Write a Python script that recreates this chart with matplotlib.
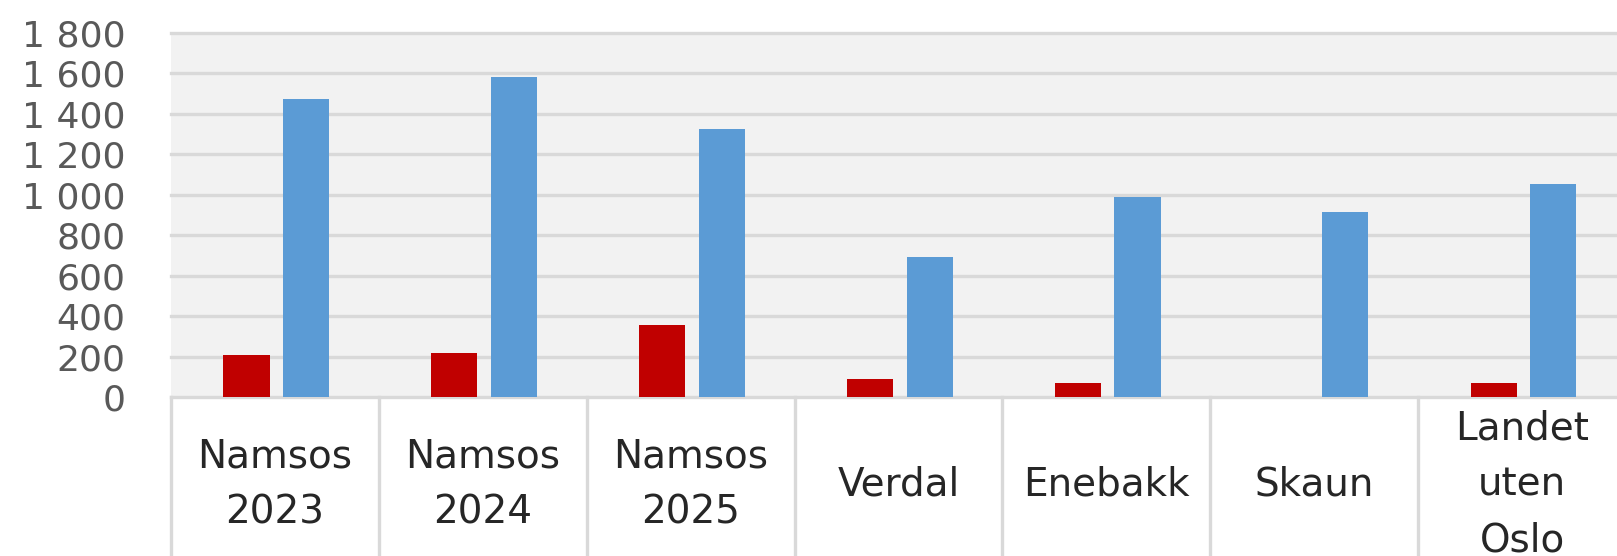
import matplotlib.pyplot as plt
import numpy as np
from matplotlib.transforms import blended_transform_factory

categories = ["Namsos\n2023", "Namsos\n2024", "Namsos\n2025", "Verdal",
              "Enebakk", "Skaun", "Landet\nuten\nOslo"]
red_values  = [206, 219, 354, 91, 69, 0, 70]
blue_values = [1475, 1581, 1327, 690, 990, 917, 1054]
y_ticks     = [0, 200, 400, 600, 800, 1000, 1200, 1400, 1600, 1800]
y_labels    = ["0", "200", "400", "600", "800", "1 000", "1 200", "1 400", "1 600", "1 800"]

RED  = "#C00000"
BLUE = "#5B9BD5"
GRID = "#D9D9D9"

plt.rcParams["font.family"] = ["DejaVu Sans"]

W, H = 1617, 556
fig = plt.figure(figsize=(W / 100, H / 100), dpi=100)
ax = fig.add_axes([171 / W, 1 - 397 / H, 1455 / W, 364 / H])
ax.set_facecolor("#F2F2F2")

x = np.arange(len(categories))
bw = 0.222
ax.bar(x - 0.137, red_values, width=bw, color=RED, zorder=3)
ax.bar(x + 0.150, blue_values, width=bw, color=BLUE, zorder=3)

ax.set_xlim(-0.5, len(categories) - 0.5)
ax.set_ylim(0, 1800)

for v in y_ticks:
    ax.axhline(v, color=GRID, lw=2.4, zorder=1, clip_on=False)

for s in ax.spines.values():
    s.set_visible(False)

ax.set_yticks(y_ticks)
ax.set_yticklabels(y_labels, fontsize=26, color="#595959")
ax.tick_params(axis="y", length=0, pad=33)
ax.set_xticks([])

# category separators running down through the label area
trans = blended_transform_factory(ax.transData, ax.transAxes)
for b in np.arange(-0.5, len(categories), 1.0):
    ax.plot([b, b], [0, -0.5], color=GRID, lw=2.4, transform=trans, clip_on=False, zorder=1)

# category labels
ftrans = blended_transform_factory(ax.transData, fig.transFigure)
for xi, lab in zip(x, categories):
    ax.text(xi, 1 - 485 / H, lab, transform=ftrans, ha="center", va="center",
            fontsize=28, color="#262626", linespacing=1.6, multialignment="center")

fig.savefig("out.png", dpi=100)
